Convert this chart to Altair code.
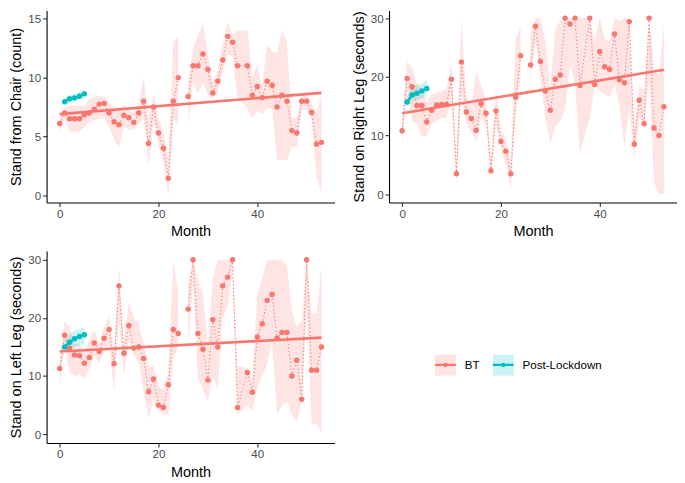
import altair as alt
import pandas as pd
import numpy as np

# ---------------- data ----------------
MONTHS = list(range(0, 37)) + list(range(38, 54))
PL_MONTHS = [1, 2, 3, 4, 5]
GROUPS = ["BT", "Post-Lockdown"]
TREND_MONTHS = [0, 53]

# Stand from Chair (count)
chair_bt = [6.1, 7.0, 6.5, 6.5, 6.5, 6.85, 7.0, 7.3, 7.75, 7.8, 7.0, 6.25, 6.0, 6.8, 6.6, 6.2, 7.0, 8.0, 4.4, 7.5,
            5.3, 4.0, 1.45, 8.0, 10.0, None, 8.4, 11.0, 11.0, 12.0, 10.7, 8.7, 9.7, 11.5, 13.5, 13.0, 11.0,
            11.0, 8.5, 9.25, 8.3, 9.7, 9.35, 7.5, 8.5, 8.0, 5.5, 5.3, 8.0, 8.0, 7.05, 4.35, 4.5]
chair_lo = [5.4, 6.6, 5.4, 5.4, 5.4, 5.8, 6.2, 6.4, 6.5, 6.6, 5.8, 4.8, 4.0, 5.9, 5.6, 5.6, 6.0, 6.5, 2.5, 6.2,
            4.3, 2.8, 0.0, 6.5, 6.0, None, 6.0, 9.6, 8.6, 9.6, 8.5, 8.2, 8.8, 10.4, 12.0, 11.8, 8.3,
            7.4, 6.6, 7.2, 6.9, 7.4, 7.4, 3.0, 3.0, 3.0, 4.1, 4.1, 7.3, 7.3, 6.4, 1.6, 0.2]
chair_hi = [6.7, 7.5, 7.6, 7.6, 7.6, 7.6, 8.1, 8.4, 8.4, 8.4, 7.9, 7.4, 7.2, 7.7, 7.2, 7.0, 7.8, 10.0, 6.5, 8.6,
            6.5, 5.4, 3.0, 13.0, 13.5, None, 9.5, 12.4, 13.6, 14.6, 12.0, 9.6, 10.6, 12.8, 14.7, 13.6, 14.0,
            14.0, 10.0, 11.1, 9.2, 12.8, 12.2, 12.1, 14.0, 13.0, 6.6, 6.6, 8.6, 8.6, 7.8, 6.9, 8.6]
chair_pl = [7.95, 8.2, 8.28, 8.42, 8.62]
chair_pl_lo = [7.6, 7.9, 8.0, 8.15, 8.35]
chair_pl_hi = [8.25, 8.5, 8.6, 8.75, 8.95]
chair_trend = [6.9, 8.7]

# Stand on Right Leg (seconds)
right_bt = [10.8, 19.7, 18.3, 15.1, 15.1, 12.3, 14.3, 15.2, 15.3, 15.3, 19.6, 3.5, 22.5, 14.0, 12.9, 10.9, 15.4,
            13.8, 4.0, 14.2, 9.0, 7.3, 3.5, 16.5, 23.6, None, 22.0, 28.6, 22.6, 17.6, 14.3, 19.6, 20.3, 30.0,
            29.0, 30.0, 18.5, 30.0, 18.7, 24.3, 21.7, 21.3, 27.3, 19.5, 19.0, 29.4, 8.5, 16.0, 12.0, 30.0,
            11.3, 10.0, 14.9]
right_lo = [8.5, 17.0, 12.5, 12.0, 9.8, 10.0, 12.0, 12.5, 13.0, 13.0, 16.0, 1.5, 17.0, 12.0, 10.5, 9.0, 13.0,
            12.0, 2.5, 12.0, 7.5, 5.0, 1.0, 14.0, 20.0, None, 18.7, 26.0, 20.0, 13.0, 8.7, 11.5, 12.5, 14.5,
            22.0, 19.0, 7.0, 13.0, 18.5, 17.6, 17.0, 16.5, 18.7, 15.0, 8.1, 15.0, 5.9, 13.0, 11.5, 20.0,
            2.0, 0.0, 0.0]
right_hi = [12.5, 22.6, 21.5, 19.0, 17.6, 15.5, 17.0, 17.3, 17.6, 17.9, 22.4, 5.5, 30.0, 16.5, 15.0, 21.0, 18.5,
            16.0, 6.0, 18.0, 11.0, 9.5, 5.5, 26.5, 28.5, None, 27.1, 30.0, 30.0, 26.0, 18.0, 28.2, 29.5, 30.0,
            30.0, 30.0, 30.0, 30.0, 26.0, 30.0, 26.5, 26.0, 30.0, 29.5, 30.0, 29.5, 11.0, 18.5, 17.6, 30.0,
            21.0, 20.4, 28.8]
right_pl = [15.7, 16.9, 17.2, 17.6, 18.0]
right_pl_lo = [14.8, 15.8, 16.0, 16.4, 16.6]
right_pl_hi = [16.6, 18.4, 18.6, 18.9, 19.4]
right_trend = [13.8, 21.2]

# Stand on Left Leg (seconds)
left_bt = [11.3, 17.0, 14.8, 13.6, 13.5, 12.2, 13.2, 15.7, 14.2, 16.5, 18.0, 12.1, 25.5, 13.9, 18.7, 14.8, 15.0,
           13.0, 7.3, 9.5, 5.0, 4.6, 8.5, 18.0, 17.3, None, 21.5, 30.0, 17.3, 14.6, 9.3, 19.7, 15.0, 25.5,
           27.0, 30.0, 4.6, 10.6, 7.2, 16.7, 19.0, 23.0, 24.0, 16.5, 17.5, 17.5, 10.0, 12.7, 6.0, 30.0,
           11.0, 11.0, 15.0]
left_lo = [8.1, 15.0, 10.6, 10.0, 10.3, 9.5, 11.0, 13.5, 12.3, 14.2, 15.5, 7.3, 19.5, 10.0, 16.0, 13.5, 12.5,
           7.3, 2.8, 6.0, 3.9, 3.4, 3.4, 13.0, 15.0, None, 15.0, 26.0, 9.5, 7.8, 5.6, 10.0, 7.8, 20.0,
           22.0, 28.0, 3.4, 5.0, 3.9, 8.0, 10.0, 12.0, 16.0, 3.4, 5.0, 5.6, 3.4, 2.2, 5.6, 22.0,
           1.7, 1.7, 0.3]
left_hi = [13.0, 19.3, 18.5, 15.5, 15.5, 14.0, 16.2, 17.9, 15.5, 18.4, 20.4, 14.0, 28.8, 15.5, 22.9, 20.0, 19.0,
           15.6, 11.7, 11.7, 8.4, 7.5, 10.7, 29.9, 24.5, None, 26.0, 30.0, 26.8, 24.0, 15.0, 26.8, 30.0, 30.0,
           30.0, 30.0, 11.7, 11.4, 9.7, 24.0, 26.8, 30.0, 30.0, 30.0, 30.0, 29.0, 21.2, 18.4, 19.5, 30.0,
           20.7, 20.7, 29.0]
left_pl = [15.0, 15.8, 16.4, 16.8, 17.1]
left_pl_lo = [14.0, 14.7, 15.0, 15.3, 15.5]
left_pl_hi = [16.0, 17.2, 17.8, 18.1, 18.4]
left_trend = [14.2, 16.6]

# ---------------- styling ----------------
C_BT = "#F8766D"
C_PL = "#00BFC4"
FONT = "Liberation Sans"
LEG_PATH = "M-1,0H1M-0.1,0A0.1,0.1,0,1,1,0.1,0A0.1,0.1,0,1,1,-0.1,0Z"
W, H = 291, 194
LX, LY = 391, 103
LABEL_FS = 11.7
LEG_SW = 2.3
LEG_OFF = 7.5
LEG_PAD = 7.5
BT_LABEL_W = 1.278 * LABEL_FS  # width of the "BT" label in Liberation Sans


def build(bt, lo, hi, pl, pl_lo, pl_hi):
    a = pd.DataFrame({"month": MONTHS, "value": bt, "lo": lo, "hi": hi}, dtype=float)
    a["seg"] = a["value"].isna().cumsum()
    a = a.dropna()
    a["group"] = GROUPS[0]
    b = pd.DataFrame({"month": PL_MONTHS, "value": pl, "lo": pl_lo, "hi": pl_hi}, dtype=float)
    b["seg"] = 100
    b["group"] = GROUPS[1]
    df = pd.concat([a, b], ignore_index=True)
    df["series"] = df["group"]
    return df


def panel(df, trend, ytitle, ydom, yvals, legend):
    xs = alt.Scale(domain=[-2.65, 55.65], nice=False, zero=False)
    ys = alt.Scale(domain=ydom, nice=False, zero=False)
    xax = alt.Axis(values=[0, 20, 40], title="Month")
    yax = alt.Axis(values=yvals, title=ytitle)

    def X():
        return alt.X("month:Q", scale=xs, axis=xax)

    def Y(f):
        return alt.Y(f + ":Q", scale=ys, axis=yax)

    if legend:
        legA = alt.Legend(orient="none", legendX=LX, legendY=LY, direction="horizontal", title=None,
                          symbolType="square", symbolSize=441, symbolOpacity=0.2,
                          symbolStrokeWidth=LEG_SW, symbolStrokeColor="transparent",
                          labelOffset=LEG_OFF, columnPadding=LEG_PAD, padding=0, labelFontSize=LABEL_FS,
                          labelFont=FONT, labelColor="black")
        legB = alt.Legend(orient="none", legendX=LX, legendY=LY, direction="horizontal", title=None,
                          symbolType=LEG_PATH, symbolSize=441, symbolOpacity=1, symbolStrokeWidth=LEG_SW,
                          symbolDash=[10, 0], labelOffset=LEG_OFF, columnPadding=LEG_PAD + BT_LABEL_W,
                          padding=0, labelFontSize=LABEL_FS, labelFont=FONT, labelExpr="''")
    else:
        legA = None
        legB = None

    base = alt.Chart(df)
    ribbon = base.mark_area(opacity=0.2, clip=True).encode(
        x=X(), y=Y("lo"), y2="hi:Q",
        fill=alt.Fill("group:N", scale=alt.Scale(range=[C_BT, C_PL]), legend=legA),
        detail="seg:N",
    )
    tdf = pd.DataFrame({"month": TREND_MONTHS, "value": trend})
    trend_line = alt.Chart(tdf).mark_line(color=C_BT, strokeWidth=2.6).encode(x=X(), y=Y("value"))
    line_bt = base.transform_filter(alt.datum.group == GROUPS[0]).mark_line(
        strokeDash=[1.2, 2.4], strokeWidth=1.1).encode(
        x=X(), y=Y("value"),
        stroke=alt.Stroke("series:N", scale=alt.Scale(range=[C_BT, C_PL]), legend=legB),
        detail="seg:N",
    )
    line_pl = base.transform_filter(alt.datum.group == GROUPS[1]).mark_line(strokeWidth=2.4).encode(
        x=X(), y=Y("value"),
        stroke=alt.Stroke("series:N", scale=alt.Scale(range=[C_BT, C_PL]), legend=legB),
    )
    pts = base.mark_circle(size=30, opacity=1).encode(
        x=X(), y=Y("value"),
        color=alt.Color("group:N", scale=alt.Scale(range=[C_BT, C_PL]), legend=None),
    )
    return alt.layer(ribbon, trend_line, line_bt, line_pl, pts).properties(width=W, height=H)


p1 = panel(build(chair_bt, chair_lo, chair_hi, chair_pl, chair_pl_lo, chair_pl_hi), chair_trend,
           "Stand from Chair (count)", [-0.6, 15.7], [0, 5, 10, 15], False)
p2 = panel(build(right_bt, right_lo, right_hi, right_pl, right_pl_lo, right_pl_hi), right_trend,
           "Stand on Right Leg (seconds)", [-1.4, 31.3], [0, 10, 20, 30], False)
p3 = panel(build(left_bt, left_lo, left_hi, left_pl, left_pl_lo, left_pl_hi), left_trend,
           "Stand on Left Leg (seconds)", [-1.5, 31.5], [0, 10, 20, 30], True)

top = alt.hconcat(p1, p2, spacing=16)
chart = alt.vconcat(top, p3, spacing=12).resolve_scale(
    fill="independent", stroke="independent", color="independent"
).resolve_legend(
    fill="independent", stroke="independent", color="independent"
).properties(padding=0).configure_view(stroke=None).configure_axis(
    grid=False, domainColor="black", domainWidth=1.1, tickColor="#333333", tickWidth=1.1, tickSize=4,
    labelColor="#4D4D4D", labelFontSize=LABEL_FS, labelFont=FONT, labelPadding=2,
    titleFont=FONT, titleFontSize=14.6, titleColor="black", titleFontWeight="normal", titlePadding=4,
).configure_legend(labelFont=FONT)

chart.save("out.html", embed_options={"renderer": "svg", "actions": False})
